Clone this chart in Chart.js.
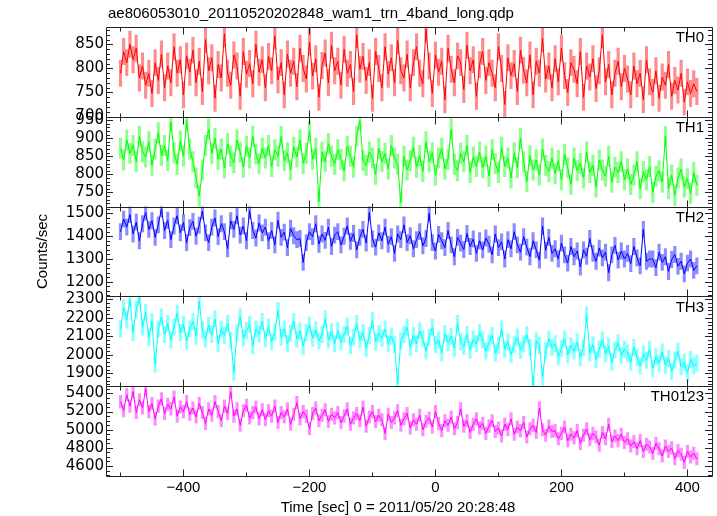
<!DOCTYPE html>
<html>
<head>
<meta charset="utf-8">
<title>ae806053010 wam1 trn 4band long</title>
<script src="https://cdn.jsdelivr.net/npm/chart.js"></script>
<style>
  body { margin: 0; background: #fff; }
  canvas { display: block; }
</style>
</head>
<body>
<canvas id="lc" width="717" height="516"></canvas>
<script>
// time bins, sec from 2011/05/20 20:28:48
const binStart = -500;
const binSize = 5;

const bands = ["TH0", "TH1", "TH2", "TH3", "TH0123"];
const bandColors = ["#ff0000", "#00ff00", "#0000ff", "#00ffff", "#ff00ff"];
const errColors = ["rgba(255,0,0,0.45)", "rgba(0,255,0,0.45)", "rgba(0,0,255,0.45)", "rgba(0,255,255,0.45)", "rgba(255,0,255,0.45)"];

const th0 = [
  790, 835, 812, 850, 818, 842, 780, 805, 765, 790, 748, 812, 775, 830, 760, 805, 770, 845, 790, 818, 745, 826, 792,
  838, 770, 815, 752, 860, 795, 822, 738, 808, 780, 872, 790, 765, 828, 805, 742, 835, 788, 810, 768, 850, 792, 818,
  760, 825, 795, 868, 776, 812, 745, 830, 790, 815, 762, 842, 800, 778, 855, 784, 820, 740, 806, 832, 770, 848, 795,
  815, 765, 840, 790, 808, 752, 870, 798, 825, 775, 812, 738, 835, 800, 760, 845, 788, 822, 770, 858, 795, 780, 830,
  760, 812, 845, 790, 768, 882, 805, 748, 828, 792, 815, 735, 842, 798, 770, 826, 812, 756, 848, 795, 818, 742, 808,
  835, 775, 812, 790, 760, 845, 800, 725, 822, 785, 810, 752, 838, 796, 770, 828, 745, 815, 790, 862, 778, 805, 760,
  820, 772, 842, 785, 750, 812, 798, 768, 835, 740, 805, 782, 820, 758, 795, 870, 772, 808, 745, 790, 815, 762, 800,
  778, 745, 805, 768, 790, 735, 818, 772, 750, 795, 738, 782, 765, 808, 742, 775, 755, 790, 730, 772, 748, 768, 752
];
const th1 = [
  872, 840, 895, 858, 880, 835, 905, 862, 848, 890, 825, 870, 915, 852, 880, 838, 945, 860, 828, 892, 850, 948, 870,
  835, 790, 740, 812, 880, 925, 858, 900, 842, 870, 818, 885, 850, 832, 895, 862, 820, 878, 845, 905, 856, 830, 872,
  845, 880, 822, 868, 850, 905, 838, 860, 812, 875, 848, 895, 830, 858, 920, 842, 872, 725, 862, 835, 885, 850, 828,
  868, 842, 810, 878, 850, 820, 905, 948, 838, 825, 862, 845, 800, 872, 835, 858, 815, 880, 845, 828, 722, 850, 812,
  838, 875, 820, 852, 808, 890, 835, 860, 798, 845, 872, 815, 842, 925, 828, 810, 858, 835, 880, 805, 848, 822, 862,
  818, 850, 795, 868, 830, 805, 875, 822, 845, 790, 860, 818, 900, 835, 780, 852, 812, 840, 798, 870, 825, 808, 845,
  802, 838, 785, 855, 818, 772, 845, 810, 830, 790, 862, 805, 825, 765, 840, 812, 795, 850, 778, 820, 805, 835, 785,
  815, 772, 798, 835, 760, 808, 785, 822, 750, 795, 810, 778, 905, 760, 798, 742, 790, 815, 765, 788, 748, 805, 770
];
const th2 = [
  1420, 1475, 1440, 1495, 1410, 1462, 1380, 1455, 1505, 1430, 1468, 1395, 1450, 1520, 1425, 1470, 1385, 1445, 1490, 1415, 1460, 1372, 1438,
  1465, 1400, 1448, 1510, 1415, 1372, 1440, 1480, 1398, 1455, 1420, 1345, 1468, 1430, 1490, 1405, 1445, 1380, 1512, 1425, 1392, 1458, 1415,
  1440, 1380, 1425, 1362, 1470, 1395, 1418, 1350, 1435, 1402, 1385, 1390, 1285, 1372, 1420, 1398, 1455, 1365, 1410, 1382, 1440, 1355, 1405,
  1420, 1362, 1400, 1445, 1378, 1412, 1340, 1395, 1430, 1370, 1505, 1388, 1352, 1415, 1380, 1440, 1365, 1398, 1325, 1410, 1385, 1450, 1372,
  1402, 1345, 1385, 1420, 1358, 1390, 1500, 1372, 1335, 1408, 1380, 1350, 1425, 1362, 1310, 1395, 1370, 1342, 1412, 1355, 1388, 1325, 1380,
  1340, 1392, 1365, 1318, 1410, 1350, 1375, 1300, 1385, 1345, 1420, 1362, 1330, 1398, 1352, 1310, 1380, 1340, 1295, 1445, 1338, 1395, 1325,
  1345, 1300, 1370, 1318, 1282, 1355, 1310, 1335, 1265, 1340, 1312, 1390, 1325, 1290, 1348, 1305, 1330, 1240, 1318, 1360, 1295, 1335, 1300,
  1325, 1280, 1355, 1305, 1270, 1430, 1290, 1300, 1300, 1262, 1330, 1285, 1310, 1245, 1298, 1320, 1268, 1290, 1235, 1282, 1300, 1250, 1270
];
const th3 = [
  2140, 2255, 2190, 2300, 2120, 2245, 2310, 2150, 2230, 2095, 2180, 1950, 2140, 2205, 2110, 2170, 2080, 2150, 2225, 2120, 2165, 2075, 2140,
  2180, 2100, 2290, 2135, 2085, 2160, 2110, 2195, 2060, 2140, 2105, 2170, 2080, 1905, 2120, 2205, 2090, 2130, 2165, 2050, 2140, 2112, 2180,
  2085, 2150, 2070, 2125, 2240, 2095, 2140, 2060, 2115, 2180, 2085, 2130, 2045, 2120, 2160, 2090, 2135, 2075, 2110, 2195, 2080, 2125, 2060,
  2130, 2070, 2110, 2155, 2050, 2095, 2170, 2080, 2120, 2035, 2105, 2185, 2070, 2115, 2090, 2140, 2060, 2100, 2055, 1845, 2075, 2110, 2150,
  2040, 2105, 2060, 2130, 2085, 2020, 2095, 2150, 2055, 2080, 2010, 2115, 2065, 2100, 2035, 2170, 2070, 2045, 2110, 2025, 2085, 2060, 2120,
  2080, 2020, 2065, 2105, 2010, 2050, 2140, 2030, 2070, 2000, 2055, 2095, 2025, 2060, 2110, 2040, 1835, 2075, 2050, 1880, 2020, 2085, 2040,
  2060, 1990, 2035, 2085, 2000, 2050, 2020, 2070, 1985, 2040, 2215, 2010, 2055, 1975, 2030, 2080, 2005, 2045, 1960, 2025, 2065, 1995, 2030,
  2010, 1960, 2040, 1985, 1940, 2005, 1970, 2030, 1925, 1990, 1955, 2015, 1945, 1980, 1910, 1970, 2020, 1935, 1960, 1900, 1975, 1940, 1955
];
const th0123 = [
  5310, 5210, 5385, 5260, 5420, 5190, 5330, 5240, 5450, 5200, 5290, 5120, 5260, 5340, 5180, 5280, 5230, 5360, 5150, 5250, 5200, 5310, 5170,
  5240, 5140, 5290, 5190, 5070, 5230, 5160, 5310, 5200, 5100, 5260, 5180, 5420, 5150, 5230, 5050, 5210, 5270, 5130, 5190, 5250, 5120, 5220,
  5110, 5210, 5150, 5260, 5080, 5190, 5140, 5230, 5060, 5170, 5300, 5120, 5200, 5150, 5010, 5180, 5240, 5100, 5160, 5220, 5090, 5170, 5130,
  5190, 5080, 5150, 5230, 5060, 5130, 5180, 5100, 5250, 5040, 5140, 5200, 5090, 5160, 5110, 4960, 5170, 5080, 5130, 5210, 5050, 5120, 5180,
  5020, 5110, 5060, 5160, 5000, 5090, 5130, 5030, 5200, 5070, 4990, 5100, 5050, 5140, 5010, 5080, 5230, 5040, 5100, 4970, 5060, 5120, 5020,
  5070, 4960, 5040, 5100, 4980, 5020, 4930, 5060, 5000, 5120, 4950, 5030, 4990, 5080, 4920, 5010, 5050, 4970, 5240, 5000, 4940, 5040, 4980,
  4990, 4900, 4960, 5030, 4880, 4950, 4910, 4990, 4850, 4940, 5010, 4890, 4960, 4920, 4830, 4970, 4900, 5060, 4870, 4930, 4880, 4950, 4860,
  4900, 4820, 4870, 4790, 4880, 4760, 4840, 4810, 4740, 4850, 4790, 4710, 4820, 4760, 4800, 4680, 4770, 4730, 4640, 4760, 4700, 4740, 4680
];
const series = [th0, th1, th2, th3, th0123];
const bandErr = [28, 29, 37, 46, 72];   // 1-sigma, counts/sec

// axis ranges and tick labels
const xMin = -523, xMax = 439;
const xTicks = [-400, -200, 0, 200, 400];
const xMinor = 100;
const yMin = [699.5, 711, 1136, 1830, 4490];
const yMax = [886, 959, 1530, 2316, 5480];
const yTicks = [
  [700, 750, 800, 850],
  [750, 800, 850, 900, 950],
  [1200, 1300, 1400, 1500],
  [1900, 2000, 2100, 2200, 2300],
  [4600, 4800, 5000, 5200, 5400]
];
const yMinor = [10, 10, 20, 20, 50];

const times = th0.map((v, i) => binStart + i * binSize);

const txtFont = "15px 'Liberation Sans', Arial, sans-serif";

const panelPlugin = {
  id: "panels",
  beforeDatasetDraw(chart, args) {
    const ctx = chart.ctx, a = chart.chartArea;
    const ys = args.meta.yScale, xs = args.meta.xScale;
    ctx.save();
    ctx.beginPath();
    ctx.rect(a.left, ys.top, a.right - a.left, ys.bottom - ys.top);
    ctx.clip();
    // error bars under the line, one bin wide
    const k = args.index, err = bandErr[k];
    ctx.strokeStyle = errColors[k];
    ctx.lineWidth = Math.abs(xs.getPixelForValue(binSize) - xs.getPixelForValue(0));
    ctx.lineCap = "butt";
    ctx.beginPath();
    series[k].forEach((v, j) => {
      const px = xs.getPixelForValue(times[j]);
      ctx.moveTo(px, ys.getPixelForValue(v + err));
      ctx.lineTo(px, ys.getPixelForValue(v - err));
    });
    ctx.stroke();
  },
  afterDatasetDraw(chart) {
    chart.ctx.restore();
  },
  afterDraw(chart) {
    const ctx = chart.ctx, a = chart.chartArea, xs = chart.scales.x;
    ctx.save();
    ctx.strokeStyle = "#222";
    ctx.lineWidth = 1;
    bands.forEach((b, k) => {
      const ys = chart.scales["y" + k];
      const top = Math.round(ys.top) + 0.5, bot = Math.round(ys.bottom) + 0.5;
      ctx.beginPath();
      ctx.rect(Math.round(a.left) + 0.5, top, Math.round(a.right - a.left), bot - top);
      // y ticks, both sides
      for (let v = Math.ceil(ys.min / yMinor[k]) * yMinor[k]; v <= ys.max; v += yMinor[k]) {
        const len = yTicks[k].includes(v) ? 7 : 4;
        const py = Math.round(ys.getPixelForValue(v)) + 0.5;
        ctx.moveTo(a.left, py); ctx.lineTo(a.left + len, py);
        ctx.moveTo(a.right, py); ctx.lineTo(a.right - len, py);
      }
      // x ticks, top and bottom of each panel
      for (let v = Math.ceil(xMin / xMinor) * xMinor; v <= xMax; v += xMinor) {
        const len = xTicks.includes(v) ? 7 : 4;
        const px = Math.round(xs.getPixelForValue(v)) + 0.5;
        ctx.moveTo(px, top); ctx.lineTo(px, top + len);
        ctx.moveTo(px, bot); ctx.lineTo(px, bot - len);
      }
      ctx.stroke();
      // band name
      ctx.fillStyle = "#000";
      ctx.font = txtFont;
      ctx.textAlign = "right";
      ctx.textBaseline = "middle";
      ctx.fillText(b, a.right - 8, ys.top + 11);
    });
    ctx.fillStyle = "#000";
    ctx.font = txtFont;
    ctx.textAlign = "left";
    ctx.textBaseline = "middle";
    ctx.fillText("ae806053010_20110520202848_wam1_trn_4band_long.qdp", 108, 14);
    ctx.textAlign = "center";
    ctx.fillText("Time [sec] 0 = 2011/05/20 20:28:48", 398, 508);
    ctx.translate(43, (a.top + a.bottom) / 2);
    ctx.rotate(-Math.PI / 2);
    ctx.fillText("Counts/sec", 0, 0);
    ctx.restore();
  }
};

const scales = {
  x: {
    type: "linear",
    min: xMin,
    max: xMax,
    grid: { display: false, drawTicks: false },
    border: { display: false },
    afterBuildTicks: s => { s.ticks = xTicks.map(v => ({ value: v })); },
    ticks: {
      autoSkip: false,
      maxRotation: 0,
      padding: 3,
      color: "#000",
      font: { family: "'Liberation Sans', Arial, sans-serif", size: 15 },
      callback: v => (v < 0 ? "\u2212" + Math.abs(v) : String(v))
    },
    afterFit: s => { s.height = 40; }
  }
};
bands.forEach((b, k) => {
  scales["y" + k] = {
    type: "linear",
    position: "left",
    stack: "bands",
    stackWeight: 1,
    weight: bands.length - k,
    min: yMin[k],
    max: yMax[k],
    grid: { display: false, drawTicks: false },
    border: { display: false },
    afterBuildTicks: s => { s.ticks = yTicks[k].map(v => ({ value: v })); },
    ticks: {
      autoSkip: false,
      padding: 2,
      color: "#000",
      font: { family: "'DejaVu Sans', sans-serif", size: 15 },
      callback: v => String(v)
    },
    afterFit: s => { s.width = 106; }
  };
});

new Chart(document.getElementById("lc"), {
  type: "line",
  data: {
    datasets: bands.map((b, k) => ({
      label: b,
      data: series[k].map((v, j) => ({ x: times[j], y: v })),
      yAxisID: "y" + k,
      borderColor: bandColors[k],
      borderWidth: 1,
      pointRadius: 0,
      tension: 0
    }))
  },
  options: {
    responsive: false,
    animation: false,
    devicePixelRatio: 1,
    layout: { padding: { left: 0, right: 5, top: 27, bottom: 0 } },
    scales: scales,
    plugins: {
      legend: { display: false },
      tooltip: { enabled: false }
    }
  },
  plugins: [panelPlugin]
});
</script>
</body>
</html>
